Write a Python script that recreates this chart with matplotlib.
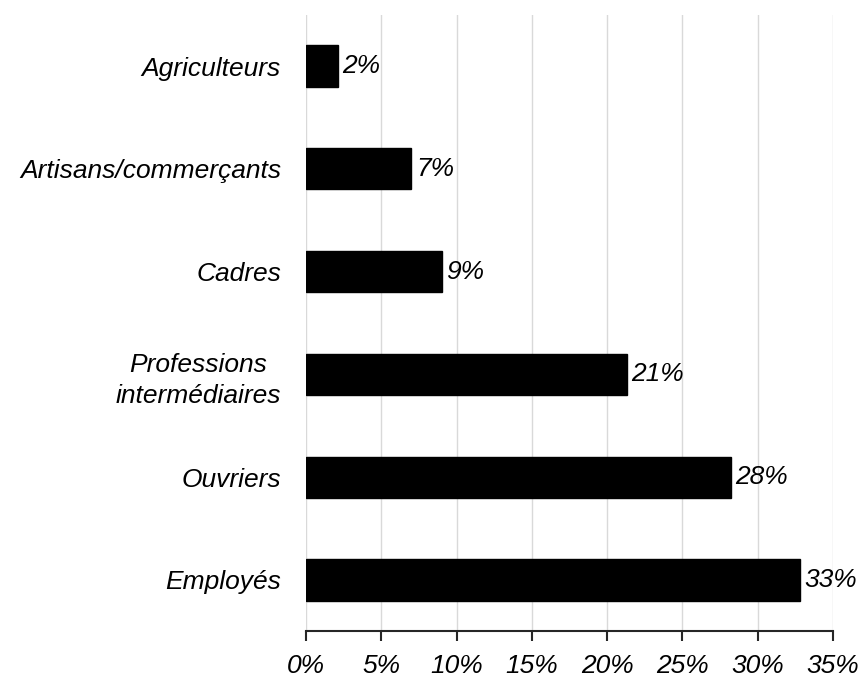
import matplotlib.pyplot as plt

categories = ["Employés", "Ouvriers", "Professions\nintermédiaires", "Cadres",
              "Artisans/commerçants", "Agriculteurs"]
values = [32.8, 28.2, 21.3, 9.0, 7.0, 2.1]
x_ticks = [0, 5, 10, 15, 20, 25, 30, 35]
x_tick_labels = ["0%", "5%", "10%", "15%", "20%", "25%", "30%", "35%"]

plt.rcParams['font.family'] = ['Liberation Sans', 'DejaVu Sans']

fig = plt.figure(figsize=(8.6, 6.8), dpi=100)
ax = fig.add_axes([0.3558, 0.0715, 0.6128, 0.907])

y_pos = list(range(len(categories)))
ax.barh(y_pos, values, height=0.4, color='black', edgecolor='black', zorder=3)

for y, v in zip(y_pos, values):
    ax.text(v + 0.3, y, f"{v:.0f}%", va='center', ha='left',
            fontsize=19, style='italic')

ax.set_xlim(0, 35)
ax.set_ylim(-0.5, 5.5)

ax.set_xticks(x_ticks)
ax.set_xticklabels(x_tick_labels, fontsize=19, style='italic')
ax.set_yticks(y_pos)
ax.set_yticklabels(categories, fontsize=19, style='italic',
                   multialignment='center', linespacing=1.35)

ax.tick_params(axis='y', length=0, pad=18)
ax.tick_params(axis='x', length=7, width=1.5, color='#262626', direction='out', pad=9)

ax.grid(axis='x', color='#d9d9d9', linewidth=1, zorder=0)
for side in ['top', 'right', 'left']:
    ax.spines[side].set_visible(False)
ax.spines['bottom'].set_linewidth(1.5)
ax.spines['bottom'].set_color('#262626')

fig.savefig("out.png", dpi=100)
